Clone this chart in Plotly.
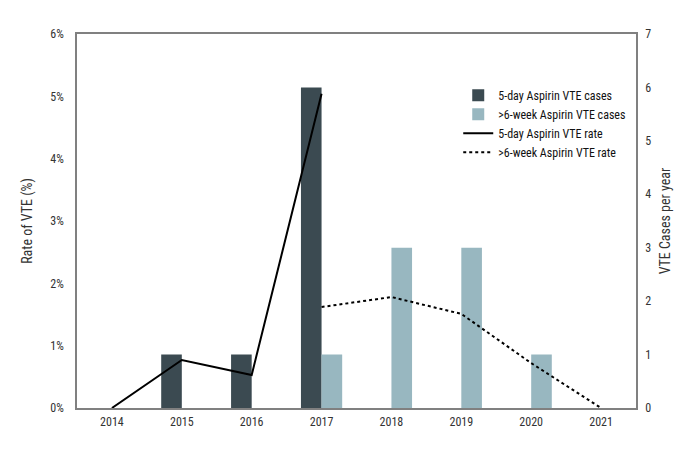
import plotly.graph_objects as go

years = ['2014', '2015', '2016', '2017', '2018', '2019', '2020', '2021']
cases_5day = [None, 1, 1, 6, None, None, None, None]
cases_6week = [None, None, None, 1, 3, 3, 1, None]
rate_5day = [0, 0.77, 0.53, 5.04, None, None, None, None]
rate_6week = [None, None, None, 1.62, 1.78, 1.51, 0.72, 0]

font = 'Roboto Condensed, DejaVu Sans Condensed, sans-serif'
axis_col = '#808080'

fig = go.Figure()

# bars go on the right-hand axis (cases per year)
fig.add_trace(go.Bar(x=years, y=cases_5day, name='5-day Aspirin VTE cases',
                     marker=dict(color='#3b4a51', line=dict(width=0)), yaxis='y'))
fig.add_trace(go.Bar(x=years, y=cases_6week, name='>6-week Aspirin VTE cases',
                     marker=dict(color='#98b7c0', line=dict(width=0)), yaxis='y'))

# rate lines on the left axis, overlaid so they draw above the bars
fig.add_trace(go.Scatter(x=years, y=rate_5day, name='5-day Aspirin VTE rate',
                         mode='lines', line=dict(color='black', width=2),
                         connectgaps=False, yaxis='y2'))
fig.add_trace(go.Scatter(x=years, y=rate_6week, name='>6-week Aspirin VTE rate',
                         mode='lines', line=dict(color='black', width=2, dash='dot'),
                         connectgaps=False, yaxis='y2'))

# the page body adds an 8px margin, so the plot margins are trimmed to match
fig.update_layout(
    width=696,
    height=456,
    margin=dict(l=69, r=68, t=26, b=56),
    paper_bgcolor='white',
    plot_bgcolor='white',
    font=dict(family=font, size=12, color='#333333'),
    barmode='group',
    bargap=0.41,
    bargroupgap=0,
    showlegend=True,
    legend=dict(x=0.682, y=0.875, xanchor='left', yanchor='top',
                bgcolor='rgba(0,0,0,0)', font=dict(size=12, color='#111111'),
                tracegroupgap=0, traceorder='normal'),
    xaxis=dict(
        type='category',
        range=[-0.5, 7.5],
        showline=True, linecolor=axis_col, linewidth=1.5, mirror=True,
        ticks='', showgrid=False, ticklabelstandoff=2, automargin=False,
    ),
    yaxis=dict(
        side='right',
        range=[0, 7],
        dtick=1,
        showline=True, linecolor=axis_col, linewidth=1.5,
        showgrid=False, zeroline=False, ticks='', ticklabelstandoff=5,
        automargin=False,
        title=dict(text='VTE Cases per year', standoff=10),
    ),
    yaxis2=dict(
        side='left',
        overlaying='y',
        range=[0, 6],
        dtick=1,
        ticksuffix='%',
        showline=True, linecolor=axis_col, linewidth=1.5,
        showgrid=False, zeroline=False, ticks='', ticklabelstandoff=9,
        automargin=False,
        title=dict(text='Rate of VTE (%)', standoff=14),
    ),
)

fig.write_html('out.html')
